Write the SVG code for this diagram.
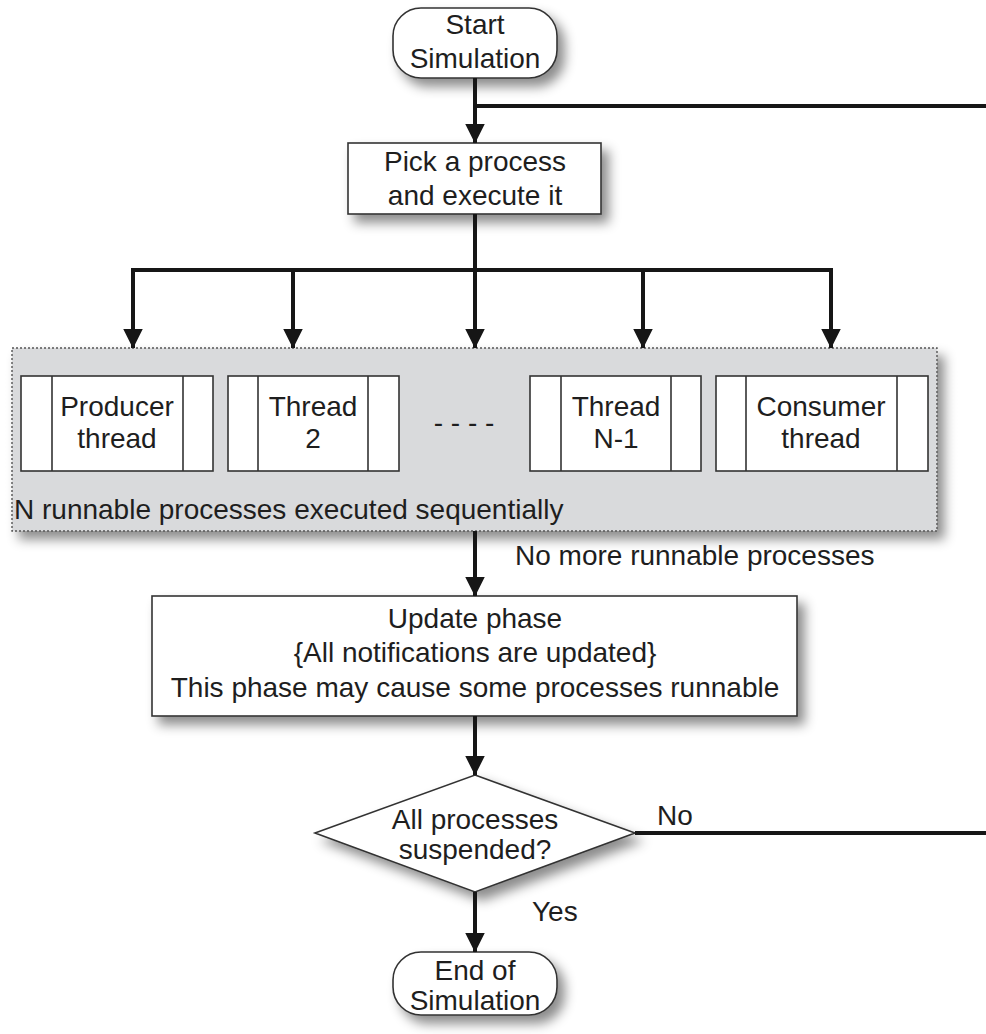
<svg xmlns="http://www.w3.org/2000/svg" width="986" height="1034" viewBox="0 0 986 1034">
<style>
text{font-family:"Liberation Sans",Arial,sans-serif;font-size:28px;fill:#1e1e1e}
.c{text-anchor:middle}
.box{fill:#fff;stroke:#333;stroke-width:1.6}
.wire{fill:none;stroke:#161616;stroke-width:4}
.arr{fill:none;stroke:#161616;stroke-width:4;marker-end:url(#ah)}
.sh{filter:url(#ds)}
.div{stroke:#333;stroke-width:1.6}
</style>
<defs>
<marker id="ah" markerUnits="userSpaceOnUse" markerWidth="20" markerHeight="20" viewBox="0 0 20 20" refX="19.5" refY="10" orient="auto">
<path d="M0,0 L20,10 L0,20 Z" fill="#161616"/>
</marker>
<filter id="ds" x="-10%" y="-20%" width="130%" height="150%">
<feDropShadow dx="7" dy="8" stdDeviation="6" flood-color="#000" flood-opacity="0.45"/>
</filter>
</defs>

<g id="start">
<rect class="box sh" x="393" y="8" width="164" height="70" rx="28" ry="28"/>
<text class="c" x="475" y="34">Start</text>
<text class="c" x="475" y="68">Simulation</text>
</g>

<g id="pick">
<rect class="box sh" x="348" y="143" width="253" height="71"/>
<text class="c" x="475" y="171">Pick a process</text>
<text class="c" x="475" y="205">and execute it</text>
</g>

<g id="runnable">
<rect x="12" y="348" width="925" height="183" fill="#d9dadc" stroke="#555" stroke-width="1.4" stroke-dasharray="2 2" class="sh"/>
<text x="14" y="519">N runnable processes executed sequentially</text>
<text class="c" x="464" y="432">- - - -</text>
</g>

<g id="producer">
<rect class="box" x="21" y="376" width="192" height="95"/>
<line class="div" x1="52" y1="376" x2="52" y2="471"/>
<line class="div" x1="183" y1="376" x2="183" y2="471"/>
<text class="c" x="117" y="416">Producer</text>
<text class="c" x="117" y="448">thread</text>
</g>

<g id="thread2">
<rect class="box" x="228" y="376" width="171" height="95"/>
<line class="div" x1="258" y1="376" x2="258" y2="471"/>
<line class="div" x1="368" y1="376" x2="368" y2="471"/>
<text class="c" x="313" y="416">Thread</text>
<text class="c" x="313" y="448">2</text>
</g>

<g id="threadN1">
<rect class="box" x="530" y="376" width="171" height="95"/>
<line class="div" x1="561" y1="376" x2="561" y2="471"/>
<line class="div" x1="671" y1="376" x2="671" y2="471"/>
<text class="c" x="616" y="416">Thread</text>
<text class="c" x="616" y="448">N-1</text>
</g>

<g id="consumer">
<rect class="box" x="716" y="376" width="212" height="95"/>
<line class="div" x1="746" y1="376" x2="746" y2="471"/>
<line class="div" x1="897" y1="376" x2="897" y2="471"/>
<text class="c" x="821" y="416">Consumer</text>
<text class="c" x="821" y="448">thread</text>
</g>

<g id="update">
<rect class="box sh" x="152" y="596" width="645" height="120"/>
<text class="c" x="475" y="628">Update phase</text>
<text class="c" x="475" y="662">{All notifications are updated}</text>
<text class="c" x="475" y="697">This phase may cause some processes runnable</text>
</g>

<g id="decision">
<path class="box sh" d="M475,775 L635,833 L475,892 L315,833 Z"/>
<text class="c" x="475" y="829">All processes</text>
<text class="c" x="475" y="859">suspended?</text>
</g>

<g id="end">
<rect class="box sh" x="393" y="952" width="164" height="63" rx="28" ry="28"/>
<text class="c" x="475" y="980">End of</text>
<text class="c" x="475" y="1010">Simulation</text>
</g>

<g id="connectors">
<line class="arr" x1="475" y1="78" x2="475" y2="143"/>
<line class="wire" x1="475" y1="106" x2="986" y2="106"/>
<line class="wire" x1="475" y1="214" x2="475" y2="270"/>
<line class="wire" x1="131" y1="270" x2="833" y2="270"/>
<line class="arr" x1="133" y1="270" x2="133" y2="348"/>
<line class="arr" x1="293" y1="270" x2="293" y2="348"/>
<line class="arr" x1="475" y1="270" x2="475" y2="348"/>
<line class="arr" x1="643" y1="270" x2="643" y2="348"/>
<line class="arr" x1="831" y1="270" x2="831" y2="348"/>
<line class="arr" x1="475" y1="531" x2="475" y2="596"/>
<line class="arr" x1="475" y1="716" x2="475" y2="775"/>
<line class="wire" x1="635" y1="833" x2="986" y2="833"/>
<line class="arr" x1="475" y1="892" x2="475" y2="952"/>
<text x="515" y="565">No more runnable processes</text>
<text x="657" y="825">No</text>
<text x="532" y="921">Yes</text>
</g>
</svg>
